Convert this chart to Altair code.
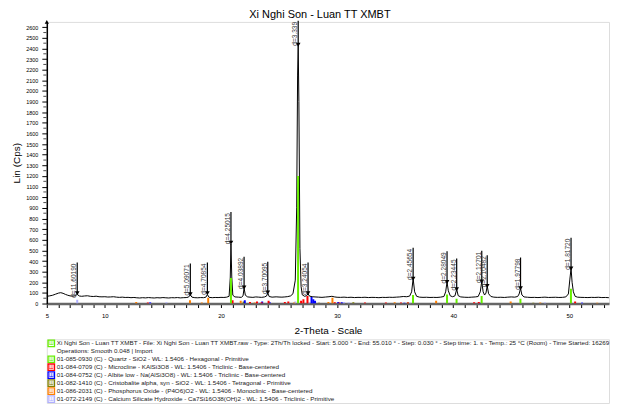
import altair as alt
import pandas as pd

# ---------------- measured pattern (2-theta, counts) ----------------
two_theta = [5.00, 5.25, 5.50, 5.75, 6.00, 6.20, 6.40, 6.60, 6.80, 7.00, 7.25, 7.45, 7.62, 7.80, 8.00,
             8.25, 8.50, 8.75, 9.00, 9.25, 9.50, 9.75, 10.00, 10.25, 10.50, 10.75, 11.00, 11.25, 11.50,
             11.75, 12.00, 12.25, 12.50, 12.75, 13.00, 13.25, 13.50, 13.75, 14.00, 14.25, 14.50, 14.75,
             15.00, 15.25, 15.50, 15.75, 16.00, 16.25, 16.50, 16.75, 17.00, 17.20, 17.36, 17.50, 17.75,
             18.00, 18.25, 18.50, 18.70, 18.83, 18.98, 19.25, 19.50, 19.75, 20.00, 20.25, 20.50, 20.70,
             20.80, 20.86, 20.93, 21.02, 21.20, 21.50, 21.75, 21.90, 21.99, 22.10, 22.30, 22.50, 22.75,
             23.00, 23.25, 23.50, 23.75, 23.92, 24.03, 24.15, 24.40, 24.75, 25.00, 25.25, 25.50, 25.75,
             26.00, 26.20, 26.40, 26.52, 26.60, 26.65, 26.71, 26.80, 26.90, 27.00, 27.20, 27.38, 27.50,
             27.62, 27.85, 28.10, 28.40, 28.70, 29.00, 29.30, 29.55, 29.80, 30.00, 30.30, 30.60, 30.90,
             31.20, 31.50, 31.80, 32.10, 32.40, 32.70, 33.00, 33.30, 33.60, 33.90, 34.20, 34.50, 34.80,
             35.10, 35.40, 35.70, 36.00, 36.25, 36.42, 36.55, 36.68, 36.85, 37.10, 37.40, 37.70, 38.00,
             38.30, 38.60, 38.90, 39.20, 39.35, 39.47, 39.58, 39.75, 39.95, 40.15, 40.30, 40.43, 40.65,
             41.00, 41.30, 41.60, 41.90, 42.15, 42.33, 42.46, 42.58, 42.70, 42.82, 42.93, 43.05, 43.25,
             43.50, 43.80, 44.10, 44.40, 44.70, 45.00, 45.30, 45.55, 45.68, 45.80, 45.92, 46.10, 46.40,
             46.70, 47.00, 47.30, 47.60, 47.90, 48.20, 48.50, 48.80, 49.10, 49.40, 49.70, 49.92, 50.05,
             50.15, 50.24, 50.35, 50.50, 50.70, 51.00, 51.30, 51.60, 51.90, 52.20, 52.50, 52.80, 53.10,
             53.40, 53.70, 54.00, 54.30, 54.60, 54.90]
counts = [68, 72, 78, 88, 98, 102, 96, 86, 78, 72, 69, 73, 86, 71, 68,
          71, 73, 68, 66, 69, 64, 63, 64, 61, 62, 64, 60, 58, 60,
          57, 58, 55, 57, 54, 52, 55, 53, 56, 54, 52, 55, 53,
          56, 54, 52, 55, 54, 56, 53, 55, 56, 60, 82, 60, 55,
          54, 56, 55, 60, 84, 58, 55, 57, 56, 58, 57, 60, 68,
          240, 560, 250, 78, 62, 60, 58, 72, 145, 78, 62, 60, 58,
          62, 60, 58, 62, 70, 98, 66, 60, 63, 61, 60, 62, 65,
          72, 92, 220, 900, 2150, 2435, 1900, 520, 160, 82, 68, 74, 92,
          70, 64, 62, 60, 58, 61, 64, 68, 62, 59, 58, 60, 57,
          59, 56, 58, 57, 59, 56, 58, 57, 55, 58, 57, 59, 58,
          60, 62, 66, 64, 70, 110, 234, 110, 68, 60, 58, 59, 57,
          58, 57, 60, 66, 110, 202, 120, 72, 64, 72, 134, 74, 62,
          59, 58, 60, 62, 66, 110, 206, 110, 80, 98, 165, 92, 66,
          60, 58, 59, 57, 60, 62, 60, 66, 90, 143, 80, 62, 59,
          57, 58, 56, 58, 60, 57, 58, 59, 57, 58, 62, 90, 230,
          330, 200, 110, 68, 60, 58, 57, 56, 58, 57, 59, 56, 57,
          55, 58, 56, 57, 55, 56]

# ---------------- peak markers ----------------
peak_pos = [7.62, 17.36, 18.83, 20.86, 21.99, 24.03, 26.65, 27.50, 36.55, 39.47, 40.30, 42.46, 42.93, 45.80, 50.15]
peak_int = [96, 87, 96, 571, 150, 103, 2435, 96, 234, 202, 134, 206, 165, 143, 330]
peak_text = ["d=11.60190", "d=5.09071", "d=4.70854", "d=4.25015", "d=4.03892", "d=3.70095", "d=3.339",
             "d=3.24054", "d=2.45654", "d=2.28049", "d=2.23445", "d=2.12701", "d=2.10482", "d=1.97798",
             "d=1.81720"]

# ---------------- reference phase sticks ----------------
phase_names = ["Quartz", "Microcline", "Albite low", "Cristobalite", "Phosphorus Oxide", "Calcium Silicate Hydroxide"]
phase_colors = ["#66ee00", "#ff0000", "#0000ff", "#808000", "#ff8000", "#b0b0ff"]

quartz_pos = [20.86, 26.64, 36.54, 39.47, 40.29, 42.45, 45.79, 50.14]
quartz_int = [240, 1200, 80, 85, 45, 70, 45, 140]
microcline_pos = [13.7, 21.0, 22.5, 23.1, 23.5, 24.1, 25.5, 25.8, 26.9, 27.1, 27.45, 29.8, 30.2, 32.4, 34.2, 35.5, 36.1, 41.8, 42.2, 50.5]
microcline_int = [10, 30, 15, 20, 12, 25, 15, 20, 25, 40, 70, 12, 10, 10, 10, 10, 10, 12, 15, 20]
albite_pos = [13.9, 22.05, 23.55, 24.2, 27.8, 27.95, 28.1, 30.1, 30.4, 35.8, 42.3, 51.1]
albite_int = [10, 30, 20, 12, 62, 40, 25, 15, 12, 8, 8, 8]
cristobalite_pos = [21.95, 28.45, 31.4, 36.1, 46.9]
cristobalite_int = [20, 8, 12, 10, 8]
phosphorus_pos = [12.7, 17.33, 18.35, 18.9, 21.7, 22.9, 26.3, 29.25, 29.6, 34.96, 38.53, 44.95, 47.5, 52.4]
phosphorus_int = [15, 30, 10, 55, 25, 10, 10, 15, 55, 12, 25, 20, 10, 8]
csh_pos = [7.62, 13.9, 15.3, 23.2, 26.4, 27.6, 30.6, 31.0, 36.3, 47.9, 51.1]
csh_int = [35, 15, 12, 12, 20, 12, 15, 10, 8, 10, 12]

# ---------------- legend text ----------------
legend_lines = [
    "Xi Nghi Son - Luan TT XMBT - File: Xi Nghi Son - Luan TT XMBT.raw - Type: 2Th/Th locked - Start: 5.000 ° - End: 55.010 ° - Step: 0.030 ° - Step time: 1. s - Temp.: 25 °C (Room) - Time Started: 16269",
    "Operations: Smooth 0.048 | Import",
    "01-085-0930 (C) - Quartz - SiO2 - WL: 1.5406 - Hexagonal - Primitive",
    "01-084-0709 (C) - Microcline - KAlSi3O8 - WL: 1.5406 - Triclinic - Base-centered",
    "01-084-0752 (C) - Albite low - Na(AlSi3O8) - WL: 1.5406 - Triclinic - Base-centered",
    "01-082-1410 (C) - Cristobalite alpha, syn - SiO2 - WL: 1.5406 - Tetragonal - Primitive",
    "01-086-2031 (C) - Phosphorus Oxide - (P4O6)O2 - WL: 1.5406 - Monoclinic - Base-centered",
    "01-072-2149 (C) - Calcium Silicate Hydroxide - Ca7Si16O38(OH)2 - WL: 1.5406 - Triclinic - Primitive",
]
legend_icon = ["Scan", "", "Quartz", "Microcline", "Albite low", "Cristobalite", "Phosphorus Oxide", "Calcium Silicate Hydroxide"]

FONT = "Liberation Sans"
X_DOMAIN = [5, 53.42]
Y_DOMAIN = [0, 2650]
PLOT_W = 565

scan = pd.DataFrame({"tt": two_theta, "c": counts})
peaks = pd.DataFrame({"tt": peak_pos, "c": peak_int, "label": peak_text})

stick_rows = []
for name, pos, inten in [
    ("Quartz", quartz_pos, quartz_int),
    ("Microcline", microcline_pos, microcline_int),
    ("Albite low", albite_pos, albite_int),
    ("Cristobalite", cristobalite_pos, cristobalite_int),
    ("Phosphorus Oxide", phosphorus_pos, phosphorus_int),
    ("Calcium Silicate Hydroxide", csh_pos, csh_int),
]:
    for p, i in zip(pos, inten):
        stick_rows.append({"phase": name, "tt": p, "c": i, "base": 0})
sticks = pd.DataFrame(stick_rows)
sticks["order"] = sticks["phase"].map({n: k for k, n in enumerate(phase_names[::-1])})
sticks = sticks.sort_values("order")

minor_y = pd.DataFrame({"tt": [X_DOMAIN[0]] * 26, "v": list(range(50, 2650, 100))})

xs = alt.Scale(domain=X_DOMAIN, nice=False, zero=False)
ys = alt.Scale(domain=Y_DOMAIN, nice=False)

x_axis = alt.Axis(
    values=list(range(5, 54)),
    labelExpr="indexof([5,10,20,30,40,50], datum.value) >= 0 ? datum.label : ''",
    title="2-Theta - Scale", titleFont=FONT, titleFontSize=10, titleFontWeight="normal",
    titleColor="black", titlePadding=7,
    labelFont=FONT, labelFontSize=6, labelColor="black", labelPadding=5,
    tickSize=4, tickColor="black", domainColor="#666", domainWidth=2.5, grid=False,
    labelFlush=False, labelOverlap=False,
)
y_axis = alt.Axis(
    values=list(range(0, 2601, 100)), format="d",
    title="Lin (Cps)", titleFont=FONT, titleFontSize=10, titleFontWeight="normal",
    titleColor="black", titlePadding=4,
    labelFont=FONT, labelFontSize=5.5, labelColor="black", labelPadding=4,
    tickSize=5, tickColor="black", domainColor="black", domainWidth=1.5, grid=False,
    labelOverlap=False,
)

color_scale = alt.Scale(domain=phase_names, range=phase_colors)

X_ = lambda f: alt.X(f, scale=xs, axis=x_axis)
Y_ = lambda f: alt.Y(f, scale=ys, axis=y_axis)

trace = alt.Chart(scan).mark_line(color="black", strokeWidth=1, clip=True).encode(
    x=X_("tt:Q"), y=Y_("c:Q"),
)

stick_layer = alt.Chart(sticks).mark_rule(strokeWidth=2, clip=True).encode(
    x=X_("tt:Q"), y=Y_("c:Q"), y2="base:Q",
    color=alt.Color("phase:N", scale=color_scale, legend=None),
    order="order:Q",
)

peak_base = alt.Chart(peaks).transform_calculate(top="min(datum.c + 290, 2660)")

peak_lines = peak_base.mark_rule(color="black", strokeWidth=1.2).encode(
    x=X_("tt:Q"), y=Y_("c:Q"), y2="top:Q"
)
peak_arrows = peak_base.mark_point(shape="triangle-down", filled=True, color="black", size=22, opacity=1).encode(
    x=X_("tt:Q"), y=Y_("c:Q")
)
peak_texts = peak_base.mark_text(angle=270, align="right", baseline="bottom", font=FONT, fontSize=6.6,
                                 color="#333333", dx=-1).encode(
    x=X_("tt:Q"), y=Y_("top:Q"), text="label:N"
)

minor_ticks = alt.Chart(minor_y).mark_tick(color="black", thickness=1, size=3, orient="horizontal", xOffset=-2).encode(
    y=Y_("v:Q"), x=X_("tt:Q")
)

axis_arrow = alt.Chart(pd.DataFrame({"tt": [X_DOMAIN[0]], "c": [Y_DOMAIN[1]]})).mark_point(
    shape="triangle-up", filled=True, color="black", size=18, opacity=1).encode(
    x=X_("tt:Q"), y=Y_("c:Q")
)

top = alt.layer(trace, stick_layer, peak_lines, peak_arrows, peak_texts, minor_ticks, axis_arrow).properties(
    width=PLOT_W, height=283,
    title=alt.TitleParams("Xi Nghi Son - Luan TT XMBT", font=FONT, fontSize=11, fontWeight="normal",
                          color="black", offset=0, dx=-8, anchor="middle"),
)

leg = pd.DataFrame({"i": list(range(len(legend_lines))), "txt": legend_lines, "icon": legend_icon})
leg_icons = leg[leg["icon"] != ""]

ly = alt.Y("i:O", axis=None, scale=alt.Scale(padding=0.5))
icon_colors = alt.Scale(domain=["Scan"] + phase_names, range=["black"] + phase_colors)

leg_text = alt.Chart(leg).mark_text(align="left", baseline="middle", font=FONT, fontSize=6.3, color="#222").encode(
    y=ly, x=alt.value(10), text="txt:N"
)
leg_box = alt.Chart(leg_icons).mark_point(shape="square", filled=False, size=42, strokeWidth=1.3, opacity=1).encode(
    y=ly, x=alt.value(4.5), color=alt.Color("icon:N", scale=icon_colors, legend=None)
)
leg_glyph = alt.Chart(leg_icons).mark_text(font=FONT, fontSize=5.5, baseline="middle", align="center", text="Ш").encode(
    y=ly, x=alt.value(4.5), color=alt.Color("icon:N", scale=icon_colors, legend=None)
)
legend_panel = alt.layer(leg_box, leg_glyph, leg_text).properties(width=PLOT_W, height=64)

chart = alt.vconcat(top, legend_panel, spacing=0).properties(
    padding={"left": 3, "top": -1, "right": 0, "bottom": 0}
).configure_view(stroke=None).configure(background="white")

chart.save("out.html", embed_options={"renderer": "svg", "actions": False})
